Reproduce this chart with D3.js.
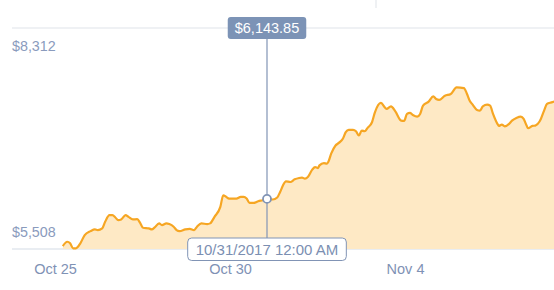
<!DOCTYPE html>
<html>
<head>
<meta charset="utf-8">
<script src="https://cdn.jsdelivr.net/npm/d3@7"></script>
<style>
  body { margin: 0; background: #fff; }
  svg { display: block; font-family: "Liberation Sans", Arial, sans-serif; }
</style>
</head>
<body>
<script>
// hourly-ish price readings, hours counted from Oct 25 2017 00:00
var startDate = new Date(2017, 9, 25)
var hours = [4,7,9,11,13,16,19,23,26,28,31,33,36,38,40,42,44,47,49,52,55,57,59,63,65,67,70,72,75,77,
	80,82,84,88,91,94,96,99,103,105,108,112,114,116,118,123,126,128,130,132,135,138,141,144,148,151,153,155,157,160,
	163,166,168,170,172,175,177,179,180,183,185,186,188,191,193,196,198,200,203,205,207,209,211,213,216,218,222,226,229,232,
	236,238,240,242,244,247,249,251,255,258,260,262,266,270,274,279,281,283,285,288,290,292,295,297,299,302,303,305,307,310,
	312,315,318,320,322,323,326,328,331,334,336,339,342]
var prices = [5546,5600,5580,5517,5517,5580,5685,5735,5757,5748,5769,5853,5937,5937,5908,5874,5883,5937,5916,5883,5887,5840,5777,5769,5757,5782,5833,5811,5833,5824,
	5790,5748,5735,5757,5764,5748,5790,5833,5824,5833,5916,6042,6190,6169,6148,6148,6169,6169,6148,6093,6093,6114,6127,6143.85,6136,6161,6232,6316,6367,6358,
	6392,6409,6414,6401,6421,6515,6547,6535,6569,6598,6590,6611,6717,6822,6851,6906,6990,7020,7020,7002,6948,7011,7002,7045,7116,7242,7361,7285,7318,7255,
	7137,7133,7222,7235,7209,7188,7222,7327,7381,7444,7411,7399,7453,7475,7558,7550,7482,7390,7339,7272,7264,7318,7339,7327,7222,7096,7070,7087,7065,7096,
	7137,7171,7188,7159,7074,7040,7070,7074,7128,7264,7348,7368,7385]

var yTicks = [5508, 8312]
var xTicks = ['2017-10-25', '2017-10-30', '2017-11-04']
var hoverDate = '2017-10-31T00:00'

var width = 554,
	height = 290

function parseDay(s) {
	var p = s.split(/[-T:]/).map(Number)
	return new Date(p[0], p[1] - 1, p[2], p[3] || 0, p[4] || 0)
}

var data = hours.map((h, i) => ({
	date: new Date(startDate.getTime() + h * 3600e3),
	price: prices[i]
}))

var x = d3.scaleTime()
	.domain([parseDay(xTicks[0]), parseDay(xTicks[2])])
	.range([57, 407])

var y = d3.scaleLinear()
	.domain(yTicks)
	.range([249, 28])

var svg = d3.select('body').append('svg')
	.attr('width', width)
	.attr('height', height)

// little divider at the very top
svg.append('line')
	.attr('x1', 376).attr('x2', 376)
	.attr('y1', 0).attr('y2', 8)
	.attr('stroke', '#dfe3e8')

// gridlines at min / max
svg.selectAll('.grid')
	.data(yTicks)
	.enter()
	.append('line')
		.attr('class', 'grid')
		.attr('x1', 12).attr('x2', width)
		.attr('y1', d => y(d)).attr('y2', d => y(d))
		.attr('stroke', (d, i) => i == 0 ? '#d3dbe5' : '#e0e4e9')
		.attr('stroke-width', 1.2)

var area = d3.area()
	.x(d => x(d.date))
	.y0(y(yTicks[0]))
	.y1(d => y(d.price))
	.curve(d3.curveMonotoneX)

var line = d3.line()
	.x(d => x(d.date))
	.y(d => y(d.price))
	.curve(d3.curveMonotoneX)

svg.append('path')
	.datum(data)
	.attr('d', area)
	.attr('fill', '#fee9c5')

svg.append('path')
	.datum(data)
	.attr('d', line)
	.attr('fill', 'none')
	.attr('stroke', '#f6a623')
	.attr('stroke-width', 2.2)
	.attr('stroke-linejoin', 'round')

// y labels (sit inside the band, under top line / over bottom line)
svg.selectAll('.ylab')
	.data(yTicks)
	.enter()
	.append('text')
		.attr('class', 'ylab')
		.attr('x', 12)
		.attr('y', (d, i) => y(d) + (i == 0 ? -12 : 23))
		.attr('font-size', 14.3)
		.attr('fill', '#8a9bbd')
		.text(d => d3.format('$,')(d))

// x axis
var xAxis = svg.append('g')
	.attr('transform', 'translate(0,' + y(yTicks[0]) + ')')
	.call(d3.axisBottom(x)
		.tickValues(xTicks.map(parseDay))
		.tickFormat(d3.timeFormat('%b %-d'))
		.tickSize(0)
		.tickPadding(15))
xAxis.select('.domain').remove()
xAxis.selectAll('text')
	.attr('dx', -2)
	.attr('font-size', 14.5)
	.attr('font-family', '"Liberation Sans", Arial, sans-serif')
	.attr('fill', '#7f92b5')

// hover crosshair
var hd = parseDay(hoverDate)
var hp = data.find(d => +d.date == +hd).price
var hx = x(hd)

svg.append('line')
	.attr('x1', hx).attr('x2', hx)
	.attr('y1', 38).attr('y2', 238)
	.attr('stroke', '#8194b5')
	.attr('stroke-width', 1.2)

svg.append('circle')
	.attr('cx', hx)
	.attr('cy', y(hp))
	.attr('r', 4)
	.attr('fill', '#fff')
	.attr('stroke', '#8194b5')
	.attr('stroke-width', 1.8)

// value bubble
var valueTip = svg.append('g')
var valueText = valueTip.append('text')
	.attr('x', hx).attr('y', 33)
	.attr('text-anchor', 'middle')
	.attr('font-size', 14.5)
	.attr('fill', '#fff')
	.text(d3.format('$,.2f')(hp))
var tw = valueText.node().getComputedTextLength()
valueTip.insert('rect', 'text')
	.attr('x', hx - tw / 2 - 7)
	.attr('y', 17)
	.attr('width', tw + 14)
	.attr('height', 22)
	.attr('rx', 3)
	.attr('fill', '#7c93b6')

// date bubble
var dateTip = svg.append('g')
var dateText = dateTip.append('text')
	.attr('x', hx).attr('y', 254.5)
	.attr('text-anchor', 'middle')
	.attr('font-size', 15)
	.attr('fill', '#7b8fb2')
	.text(d3.timeFormat('%m/%d/%Y %I:%M %p')(hd))
var bw = dateText.node().getComputedTextLength()
dateTip.insert('rect', 'text')
	.attr('x', hx - bw / 2 - 8)
	.attr('y', 238)
	.attr('width', bw + 16)
	.attr('height', 22.5)
	.attr('rx', 4)
	.attr('fill', '#fff')
	.attr('stroke', '#8194b5')
	.attr('stroke-width', 1)
</script>
</body>
</html>
